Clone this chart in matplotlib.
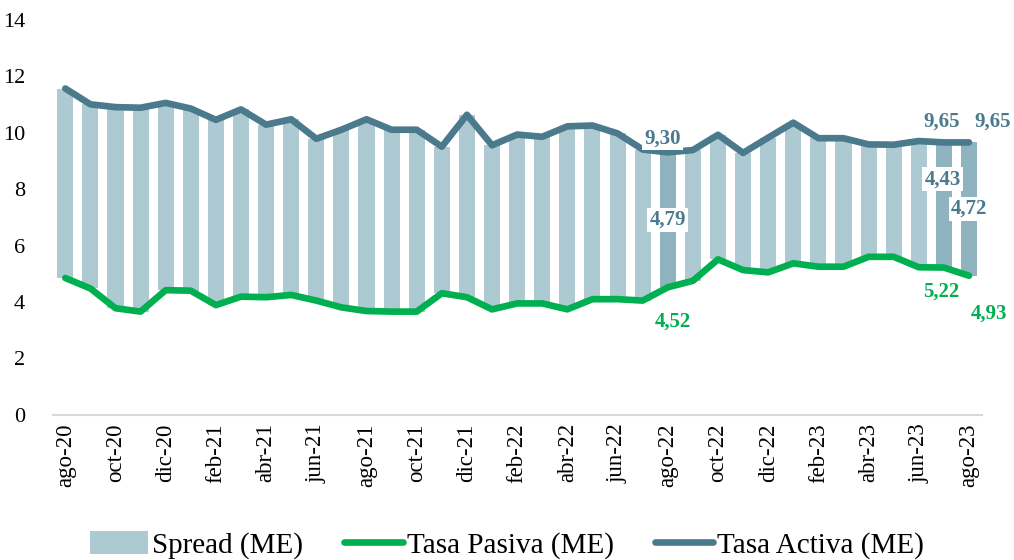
import matplotlib.pyplot as plt
import numpy as np

plt.rcParams['font.family'] = ['Liberation Serif', 'DejaVu Serif']

meses = ['ago-20', 'sep-20', 'oct-20', 'nov-20', 'dic-20', 'ene-21', 'feb-21', 'mar-21',
         'abr-21', 'may-21', 'jun-21', 'jul-21', 'ago-21', 'sep-21', 'oct-21', 'nov-21',
         'dic-21', 'ene-22', 'feb-22', 'mar-22', 'abr-22', 'may-22', 'jun-22', 'jul-22',
         'ago-22', 'sep-22', 'oct-22', 'nov-22', 'dic-22', 'ene-23', 'feb-23', 'mar-23',
         'abr-23', 'may-23', 'jun-23', 'jul-23', 'ago-23']

tasa_activa = [11.56, 11.00, 10.90, 10.88, 11.05, 10.85, 10.45, 10.82, 10.28, 10.47,
               9.78, 10.10, 10.47, 10.10, 10.10, 9.50, 10.63, 9.55, 9.93, 9.85,
               10.22, 10.25, 9.97, 9.40, 9.30, 9.38, 9.92, 9.28, 9.82, 10.35,
               9.80, 9.80, 9.58, 9.57, 9.70, 9.65, 9.65]

tasa_pasiva = [4.85, 4.48, 3.78, 3.66, 4.42, 4.40, 3.89, 4.19, 4.17, 4.25,
               4.05, 3.81, 3.68, 3.66, 3.66, 4.31, 4.17, 3.74, 3.95, 3.95,
               3.74, 4.10, 4.10, 4.05, 4.52, 4.75, 5.51, 5.13, 5.05, 5.37,
               5.25, 5.25, 5.60, 5.60, 5.23, 5.22, 4.93]

destacados = [24, 35, 36]

c_bar = '#adc9d1'
c_bar_dest = '#8fb4c0'
c_activa = '#4a7a8b'
c_pasiva = '#00b050'

x = np.arange(len(meses))
activa = np.array(tasa_activa)
pasiva = np.array(tasa_pasiva)
spread = activa - pasiva

fig = plt.figure(figsize=(10.14, 5.6), dpi=100)
ax = fig.add_axes([0.052, 0.259, 0.916, 0.706])

colores = [c_bar_dest if i in destacados else c_bar for i in x]
barras = ax.bar(x, spread, bottom=pasiva, width=0.64, color=colores, zorder=2)
l_pas, = ax.plot(x, pasiva, color=c_pasiva, lw=4.8, solid_capstyle='round',
                 solid_joinstyle='round', zorder=3)
l_act, = ax.plot(x, activa, color=c_activa, lw=4.8, solid_capstyle='round',
                 solid_joinstyle='round', zorder=4)

box = dict(facecolor='white', edgecolor='none', pad=1.5)
fs = 15


def etiqueta(xi, yi, txt, color, caja=True):
    ax.text(xi, yi, txt, color=color, fontsize=fs, fontweight='bold', ha='center', va='center',
            bbox=box if caja else None, zorder=6)


fmt = lambda v: f'{v:.2f}'.replace('.', ',')

# ago-22
etiqueta(24 - 0.2, activa[24] + 0.5, fmt(activa[24]), c_activa)
etiqueta(24, (activa[24] + pasiva[24]) / 2, fmt(spread[24] + 0.01), c_activa)
etiqueta(24 + 0.2, pasiva[24] - 1.2, fmt(pasiva[24]), c_pasiva, caja=False)
# jul-23
etiqueta(35 - 0.1, activa[35] + 0.73, fmt(activa[35]), c_activa, caja=False)
etiqueta(35 - 0.05, activa[35] - 1.3, fmt(spread[35]), c_activa)
etiqueta(35 - 0.1, pasiva[35] - 0.85, fmt(pasiva[35]), c_pasiva, caja=False)
# ago-23
etiqueta(36 + 0.95, activa[36] + 0.73, fmt(activa[36]), c_activa, caja=False)
etiqueta(36, (activa[36] + pasiva[36]) / 2, fmt(spread[36]), c_activa)
etiqueta(36 + 0.8, pasiva[36] - 1.33, fmt(pasiva[36]), c_pasiva, caja=False)

ax.set_xlim(-0.5, len(meses) - 0.5)
ax.set_ylim(0, 14)
ax.set_yticks(range(0, 15, 2))
ax.set_xticks(x[::2])
ax.set_xticklabels(meses[::2], rotation=90, fontsize=16.5)
ax.tick_params(axis='y', length=0, pad=20, labelsize=16)
ax.tick_params(axis='x', length=0, pad=6)
for s in ['top', 'right', 'left']:
    ax.spines[s].set_visible(False)
ax.spines['bottom'].set_color('#d9d9d9')
ax.spines['bottom'].set_linewidth(1.5)

fig.legend([barras, l_pas, l_act], ['Spread (ME)', 'Tasa Pasiva (ME)', 'Tasa Activa (ME)'],
           loc='lower center', bbox_to_anchor=(0.5, -0.045), ncol=3, frameon=False,
           fontsize=21, handlelength=2.0, handletextpad=0.15, columnspacing=1.4,
           handleheight=0.8)

fig.savefig('out.png', dpi=100)
